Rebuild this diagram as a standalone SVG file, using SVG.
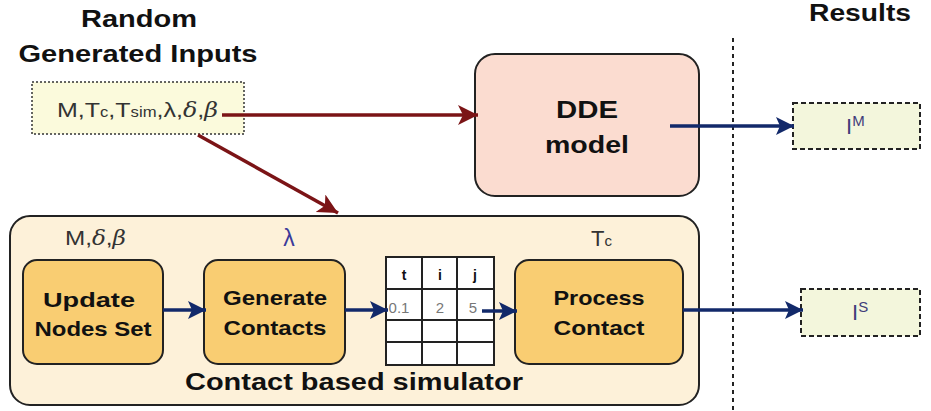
<svg xmlns="http://www.w3.org/2000/svg" width="931" height="411" viewBox="0 0 931 411">
<defs>
<marker id="ar" markerUnits="userSpaceOnUse" markerWidth="24" markerHeight="24" refX="20" refY="10" orient="auto"><path d="M0,0 L20,10 L0,20 L5,10 Z" fill="#7b1416"/></marker>
<marker id="ab" markerUnits="userSpaceOnUse" markerWidth="24" markerHeight="24" refX="18" refY="9" orient="auto"><path d="M0,0 L18,9 L0,18 L4,9 Z" fill="#12296a"/></marker>
</defs>
<style>
.t{font-family:"Liberation Sans",Arial,sans-serif;}
.b{font-weight:bold;fill:#111;}
.proc{fill:#f9cd72;stroke:#222;stroke-width:2;}
.red{stroke:#7b1416;stroke-width:3.5;fill:none;marker-end:url(#ar);}
.blue{stroke:#12296a;stroke-width:3.5;fill:none;marker-end:url(#ab);}
.res{fill:#f3f6dc;stroke:#222;stroke-width:2;stroke-dasharray:5,3;}
.m{font-family:"DejaVu Serif","Liberation Serif",serif;font-style:italic;}
</style>
<text class="t b" x="139" y="27" font-size="23.5" text-anchor="middle" textLength="116" lengthAdjust="spacingAndGlyphs">Random</text>
<text class="t b" x="138" y="62" font-size="23.5" text-anchor="middle" textLength="239" lengthAdjust="spacingAndGlyphs">Generated Inputs</text>
<text class="t b" x="860" y="21" font-size="23" text-anchor="middle" textLength="102" lengthAdjust="spacingAndGlyphs">Results</text>
<line x1="733" y1="38" x2="733" y2="411" stroke="#222" stroke-width="2" stroke-dasharray="4,4"/>
<g id="inputs">
<rect x="32" y="82" width="212" height="52" fill="#fbfadc" stroke="#333" stroke-width="1.5" stroke-dasharray="2,2"/>
<text class="t" x="57" y="117" font-size="21" fill="#333" textLength="161" lengthAdjust="spacingAndGlyphs">M,T<tspan font-size="14">c</tspan>,T<tspan font-size="14">sim</tspan>,λ,<tspan class="m" font-size="20">δ</tspan>,<tspan class="m" font-size="20">β</tspan></text>
</g>
<g id="dde">
<rect x="475" y="54" width="224" height="142" rx="20" fill="#fbdcd0" stroke="#222" stroke-width="2"/>
<text class="t b" x="587" y="118" font-size="23.5" text-anchor="middle" textLength="62" lengthAdjust="spacingAndGlyphs">DDE</text>
<text class="t b" x="587" y="153" font-size="23.5" text-anchor="middle" textLength="84" lengthAdjust="spacingAndGlyphs">model</text>
</g>
<g id="im">
<rect class="res" x="793" y="103" width="127" height="46"/>
<text class="t" x="846" y="134" font-size="22" fill="#3f3d7a">I<tspan font-size="15" dy="-8">M</tspan></text>
</g>
<g id="simulator">
<rect x="10" y="216" width="689" height="189" rx="20" fill="#fdf1d9" stroke="#222" stroke-width="2"/>
<text class="t" x="65" y="245" font-size="21" fill="#333" textLength="61" lengthAdjust="spacingAndGlyphs">M,<tspan class="m" font-size="20">δ</tspan>,<tspan class="m" font-size="20">β</tspan></text>
<text class="t" x="289" y="246" font-size="23" fill="#3a3a9a" text-anchor="middle">λ</text>
<text class="t" x="591" y="246" font-size="22" fill="#333">T<tspan font-size="15">c</tspan></text>
<text class="t b" x="354" y="390" font-size="23.5" text-anchor="middle" textLength="338" lengthAdjust="spacingAndGlyphs">Contact based simulator</text>
</g>
<g id="update">
<rect class="proc" x="23" y="260" width="140" height="104" rx="14"/>
<text class="t b" x="89" y="307" font-size="21" text-anchor="middle" textLength="92" lengthAdjust="spacingAndGlyphs">Update</text>
<text class="t b" x="93" y="336" font-size="21" text-anchor="middle" textLength="117" lengthAdjust="spacingAndGlyphs">Nodes Set</text>
</g>
<g id="generate">
<rect class="proc" x="204" y="260" width="141" height="104" rx="14"/>
<text class="t b" x="275" y="305" font-size="21" text-anchor="middle" textLength="104" lengthAdjust="spacingAndGlyphs">Generate</text>
<text class="t b" x="275" y="335" font-size="21" text-anchor="middle" textLength="103" lengthAdjust="spacingAndGlyphs">Contacts</text>
</g>
<g id="table">
<rect x="386" y="257" width="108" height="108" fill="#fff" stroke="#222" stroke-width="2"/>
<path d="M422,257V365M457,257V365M386,289H494M386,320H494M386,342H494" stroke="#222" stroke-width="2" fill="none"/>
<g class="t" font-size="14" font-weight="bold" text-anchor="middle" fill="#111">
<text x="404" y="280">t</text><text x="440" y="280">i</text><text x="475" y="280">j</text>
</g>
<g class="t" font-size="15" text-anchor="middle" fill="#777">
<text x="399" y="313">0.1</text><text x="440" y="313">2</text><text x="473" y="313">5</text>
</g>
</g>
<g id="process">
<rect class="proc" x="515" y="260" width="168" height="104" rx="14"/>
<text class="t b" x="599" y="305" font-size="21" text-anchor="middle" textLength="91" lengthAdjust="spacingAndGlyphs">Process</text>
<text class="t b" x="599" y="335" font-size="21" text-anchor="middle" textLength="91" lengthAdjust="spacingAndGlyphs">Contact</text>
</g>
<g id="is">
<rect class="res" x="801" y="289" width="119" height="47"/>
<text class="t" x="852" y="320" font-size="22" fill="#3f3d7a">I<tspan font-size="15" dy="-8">S</tspan></text>
</g>
<g id="connectors">
<line class="red" x1="222" y1="115" x2="478" y2="115"/>
<line class="red" x1="198" y1="135" x2="338" y2="213"/>
<line class="blue" x1="670" y1="126" x2="794" y2="126"/>
<line class="blue" x1="163" y1="310" x2="206" y2="310"/>
<line class="blue" x1="345" y1="310" x2="388" y2="310"/>
<line class="blue" x1="482" y1="311" x2="517" y2="311"/>
<line class="blue" x1="683" y1="310" x2="803" y2="310"/>
</g>
</svg>
